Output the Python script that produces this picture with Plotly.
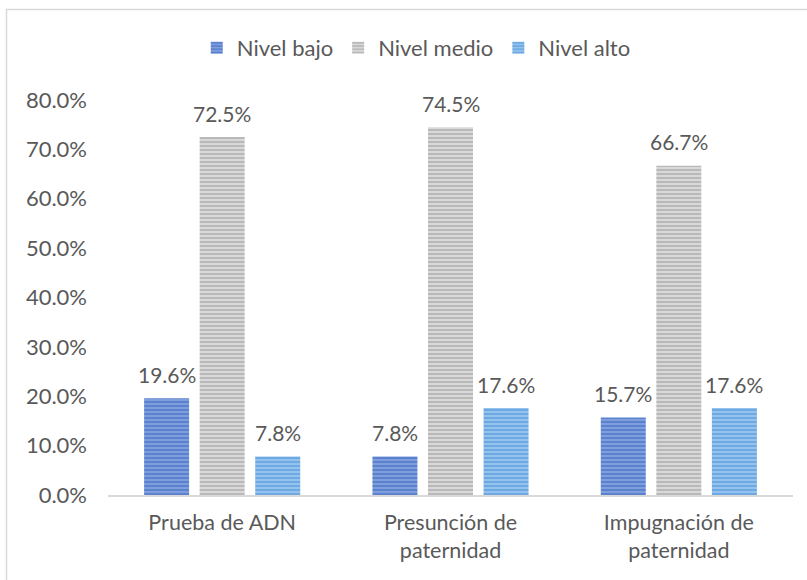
import plotly.graph_objects as go

categories = ["Prueba de ADN", "Presunción de<br>paternidad", "Impugnación de<br>paternidad"]
series_names = ["Nivel bajo", "Nivel medio", "Nivel alto"]
nivel_bajo = [0.196, 0.078, 0.157]
nivel_medio = [0.725, 0.745, 0.667]
nivel_alto = [0.078, 0.176, 0.176]
tick_vals = [0, 0.1, 0.2, 0.3, 0.4, 0.5, 0.6, 0.7, 0.8]

FONT = "Lato"
TXT = "#595959"
W, H = 807, 580
ML, MR, MT, MB = 108, 14, 100, 85
BARGAP, GROUPGAP = 0.27, 0.19

styles = [
    dict(bg="#7E9EDD", fg="#3A63BD"),
    dict(bg="#D8D8D8", fg="#9A9A9A"),
    dict(bg="#93C2EE", fg="#4A8FD6"),
]

fig = go.Figure()
all_series = [nivel_bajo, nivel_medio, nivel_alto]
for name, vals, st in zip(series_names, all_series, styles):
    fig.add_trace(go.Bar(
        name=name, x=categories, y=vals,
        marker=dict(color=st["bg"], line=dict(width=0),
                    pattern=dict(shape="-", fgcolor=st["fg"], bgcolor=st["bg"],
                                 size=4, solidity=0.5, fillmode="overlay")),
        hovertemplate="%{x}: %{y:.1%}<extra>" + name + "</extra>",
    ))

# data labels placed over each grouped bar (offset derived from bar layout settings)
band_px = (W - ML - MR) / len(categories)
slot_px = band_px * (1 - BARGAP) / len(all_series)
for i, vals in enumerate(all_series):
    for cat, v in zip(categories, vals):
        fig.add_annotation(x=cat, y=v, xref="x", yref="y", text=f"{v*100:.1f}%",
                           showarrow=False, xshift=(i - 1) * slot_px, yshift=24,
                           yanchor="middle", xanchor="center",
                           font=dict(family=FONT, size=21, color=TXT))

fig.update_layout(
    width=W, height=H,
    margin=dict(l=ML, r=MR, t=MT, b=MB, autoexpand=False),
    paper_bgcolor="white", plot_bgcolor="white",
    barmode="group", bargap=BARGAP, bargroupgap=GROUPGAP,
    font=dict(family=FONT, color=TXT, size=21),
    showlegend=True,
    legend=dict(orientation="h", x=0.45, xanchor="center", y=1.132, yanchor="middle",
                font=dict(family=FONT, size=22, color=TXT), itemwidth=30,
                traceorder="normal"),
    xaxis=dict(showline=True, linecolor="#D9D9D9", linewidth=1.5, ticks="",
               ticklabelstandoff=7,
               tickfont=dict(family=FONT, size=21.5, color=TXT)),
    yaxis=dict(range=[0, 0.8], tickvals=tick_vals, tickformat=".1%", showgrid=False,
               zeroline=False, showline=False, ticks="", ticklabelstandoff=20,
               tickfont=dict(family=FONT, size=22, color=TXT)),
)

fig.add_shape(type="rect", xref="paper", yref="paper",
              x0=(6.5 - ML) / (W - ML - MR), x1=1.2, y0=-0.5,
              y1=(H - MB - 9.5) / (H - MT - MB),
              line=dict(color="#D9D9D9", width=1.5), fillcolor="rgba(0,0,0,0)", layer="below")

fig.write_html("out.html", config={"displayModeBar": False},
               post_script="document.body.style.margin='0';")
